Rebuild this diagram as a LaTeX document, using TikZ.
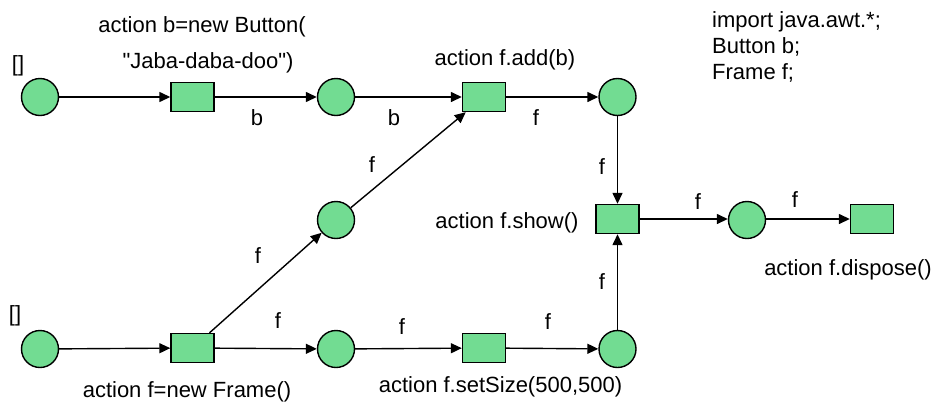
\documentclass[tikz,border=0pt]{standalone}
\usepackage{fontspec}
\setmainfont{Liberation Sans}
\newfontfamily\plainsans{Liberation Sans}
\usetikzlibrary{arrows.meta}
\definecolor{petri}{RGB}{114,220,146}
\tikzset{
  place/.style={circle,draw=black,line width=1.4pt,fill=petri,minimum size=37pt,inner sep=0pt},
  trans/.style={rectangle,draw=black,line width=1.4pt,fill=petri,minimum width=43pt,minimum height=29pt,inner sep=0pt},
  lbl/.style={anchor=base,inner sep=0pt,font=\plainsans\fontsize{22}{26}\selectfont},
  lbll/.style={anchor=base west,inner sep=0pt,font=\plainsans\fontsize{22}{26}\selectfont},
  arc/.style={draw=black,line width=1.4pt,-{Triangle[length=11pt,width=10pt]}}
}
\begin{document}
\begin{tikzpicture}[x=1pt,y=-1pt]
\useasboundingbox (0,0) rectangle (933,405);
% places and transitions
\node[place] (p1) at (40,97) {};
\node[trans] (t1) at (192.5,97) {};
\node[place] (p2) at (336,97) {};
\node[trans] (t2) at (484,97) {};
\node[place] (p3) at (617.5,97) {};
\node[place] (pm) at (336,220) {};
\node[trans] (ts) at (617.5,219) {};
\node[place] (pd) at (747,220) {};
\node[trans] (tdis) at (872,219) {};
\node[place] (q1) at (40,349) {};
\node[trans] (tf) at (192.5,348) {};
\node[place] (q2) at (336,349) {};
\node[trans] (tz) at (484,348) {};
\node[place] (q3) at (617.5,349) {};
% arcs
\draw[arc] (p1) -- (t1);
\draw[arc] (t1) -- (p2);
\draw[arc] (p2) -- (t2);
\draw[arc] (t2) -- (p3);
\draw[arc] (p3) -- (ts);
\draw[arc] (ts.east) -- (pd.west |- ts.east);
\draw[arc] (pd.east |- tdis.west) -- (tdis.west);
\draw[arc] (q1) -- (tf);
\draw[arc] (tf) -- (q2);
\draw[arc] (q2) -- (tz);
\draw[arc] (tz) -- (q3);
\draw[arc] (q3) -- (ts);
\draw[arc] (tf) -- (pm);
\draw[arc] (pm) -- (t2);
% labels
\node[lbl] (l1) at (202,32) {action b=new Button(};
\node[lbl] (l2) at (208,68) {"Jaba-daba-doo")};
\node[lbl] (l3) at (18,71) {[]};
\node[lbl] (l4) at (15,321) {[]};
\node[lbl] (l5) at (257,125) {b};
\node[lbl] (l6) at (394,125) {b};
\node[lbl] (l7) at (536,125) {f};
\node[lbl] (l8) at (505,65) {action f.add(b)};
\node[lbl] (l9) at (372,172) {f};
\node[lbl] (l10) at (602,174) {f};
\node[lbl] (l11) at (507,228) {action f.show()};
\node[lbl] (l12) at (698,209) {f};
\node[lbl] (l13) at (795,207) {f};
\node[lbl] (l14) at (848,275) {action f.dispose()};
\node[lbl] (l15) at (258,263) {f};
\node[lbl] (l16) at (602,289) {f};
\node[lbl] (l17) at (278,328) {f};
\node[lbl] (l18) at (402,334) {f};
\node[lbl] (l19) at (548,329) {f};
\node[lbl] (l20) at (187,397) {action f=new Frame()};
\node[lbl] (l21) at (500.5,392) {action f.setSize(500,500)};
\node[lbll] (i1) at (712,27) {import java.awt.*;};
\node[lbll] (i2) at (712,53) {Button b;};
\node[lbll] (i3) at (712,79) {Frame f;};
\end{tikzpicture}
\end{document}
